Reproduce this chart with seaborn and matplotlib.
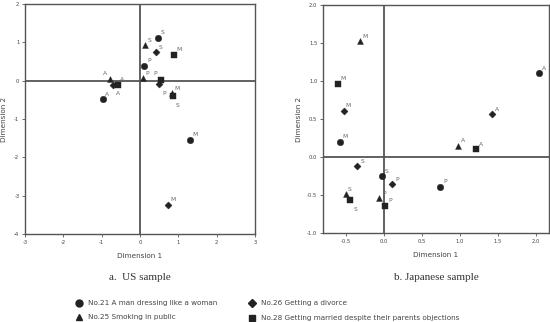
import matplotlib
matplotlib.use("Agg")
import matplotlib.pyplot as plt
import seaborn as sns
import pandas as pd
from matplotlib.lines import Line2D

sns.set_theme(style="white")
plt.rcParams['font.family'] = ['DejaVu Sans']

# ---- data ----
items = ["No.21 A man dressing like a woman", "No.25 Smoking in public",
         "No.26 Getting a divorce", "No.28 Getting married despite their parents objections"]

us_item = ["No.21"] * 4 + ["No.25"] * 4 + ["No.26"] * 4 + ["No.28"] * 4
us_group = ["A", "S", "P", "M", "A", "S", "P", "M", "A", "S", "P", "M", "A", "S", "P", "M"]
us_dim1 = [-0.97, 0.46, 0.10, 1.30, -0.78, 0.14, 0.09, 0.83, -0.70, 0.41, 0.50, 0.74, -0.57, 0.85, 0.56, 0.88]
us_dim2 = [-0.49, 1.11, 0.38, -1.55, 0.05, 0.92, 0.07, -0.32, -0.11, 0.75, -0.09, -3.25, -0.10, -0.41, 0.02, 0.66]

jp_item = us_item
jp_group = us_group
jp_dim1 = [2.04, -0.03, 0.74, -0.58, 0.98, -0.50, -0.06, -0.31, 1.42, -0.35, 0.11, -0.53, 1.21, -0.44, 0.02, -0.60]
jp_dim2 = [1.10, -0.25, -0.39, 0.20, 0.15, -0.49, -0.54, 1.52, 0.56, -0.12, -0.36, 0.61, 0.10, -0.57, -0.64, 0.96]

us_xticks = [-3, -2, -1, 0, 1, 2, 3]
us_yticks = [-4, -3, -2, -1, 0, 1, 2]
jp_xticks = [-0.5, 0.0, 0.5, 1.0, 1.5, 2.0]
jp_yticks = [-1.0, -0.5, 0.0, 0.5, 1.0, 1.5, 2.0]

# label offsets (points) -- style only
us_off = [(3, 3.5), (3.5, 4), (4, 4), (4, 4), (-4, 4), (3, 3.5), (3, 3.5), (3.5, 3.5),
          (3.5, -6.5), (3.5, 3.5), (3.5, -6.5), (3.5, 4), (3, 3.5), (3.5, -6.5), (-4.5, 4.5), (3.5, 4)]
jp_off = [(3.5, 3.5), (3.5, 3.5), (3.5, 3.5), (3.5, 3.5), (3.5, 3.5), (3, 3.5), (3.5, 3.5), (3.5, 3.5),
          (3.5, 3.5), (3.5, 3.5), (3.5, 3.5), (3.5, 3.5), (3.5, 3.5), (3.5, -6.5), (3.5, 3.5), (3.5, 4)]

markers = {"No.21": "o", "No.25": "^", "No.26": "D", "No.28": "s"}
sizes_m = {"No.21": 22, "No.25": 18, "No.26": 13, "No.28": 13}

dark = "#222222"
axc = "#555555"
txtc = "#444444"

fig = plt.figure(figsize=(5.5, 3.22), dpi=100)
ax1 = fig.add_axes([25/550, 1-234/322, 230/550, 230/322])
ax2 = fig.add_axes([323/550, 1-233/322, 226/550, 228/322])


def panel(ax, item, group, d1, d2, offs, xl, yl, xt, yt, fmt, ylpad):
    df = pd.DataFrame({"item": item, "group": group, "d1": d1, "d2": d2})
    ax.axhline(0, color=axc, lw=1.3, zorder=1)
    ax.axvline(0, color=axc, lw=1.3, zorder=1)
    for it, sub in df.groupby("item"):
        sns.scatterplot(data=sub, x="d1", y="d2", marker=markers[it], s=sizes_m[it],
                        color=dark, edgecolor=dark, linewidth=0.3, ax=ax, legend=False, zorder=3)
    for (g, x, y, o) in zip(group, d1, d2, offs):
        ax.annotate(g, (x, y), xytext=o, textcoords="offset points", fontsize=4.3,
                    color="#666666", ha="center", va="center")
    ax.set_xlim(*xl)
    ax.set_ylim(*yl)
    ax.set_xticks(xt)
    ax.set_yticks(yt)
    ax.set_xticklabels([fmt(v) for v in xt])
    ax.set_yticklabels([fmt(v) for v in yt])
    ax.tick_params(axis="both", direction="out", length=2.5, width=0.6, color=axc,
                   labelsize=3.8, labelcolor=txtc, pad=1.5, bottom=True, left=True)
    for s in ax.spines.values():
        s.set_color(axc)
        s.set_linewidth(1.0)
    ax.set_xlabel("Dimension 1", fontsize=5.2, color=txtc, labelpad=6)
    ax.set_ylabel("Dimension 2", fontsize=5.2, color=txtc, labelpad=ylpad)


panel(ax1, us_item, us_group, us_dim1, us_dim2, us_off, (-3, 3), (-4, 2),
      us_xticks, us_yticks, lambda v: f"{v:d}", 5)
panel(ax2, jp_item, jp_group, jp_dim1, jp_dim2, jp_off, (-0.8, 2.17), (-1.0, 2.0),
      jp_xticks, jp_yticks, lambda v: f"{v:.1f}", 4)

fig.text(140/550, 1-278/322, "a.  US sample", family="Liberation Serif", fontsize=8,
         color="#333333", ha="center", va="center")
fig.text(436/550, 1-278/322, "b. Japanese sample", family="Liberation Serif", fontsize=8,
         color="#333333", ha="center", va="center")

# legend
leg = [(79, 303, "o", items[0], 5), (79, 317, "^", items[1], 5),
       (252, 303, "D", items[2], 4), (252, 318, "s", items[3], 4.3)]
for (px, py, m, lab, ms) in leg:
    fig.add_artist(Line2D([px/550], [1-py/322], marker=m, markersize=ms, color=dark,
                          linestyle="none", transform=fig.transFigure))
    fig.text((px+9)/550, 1-py/322, lab, fontsize=5.2, color=txtc, ha="left", va="center")

fig.savefig("out.png", dpi=100)
